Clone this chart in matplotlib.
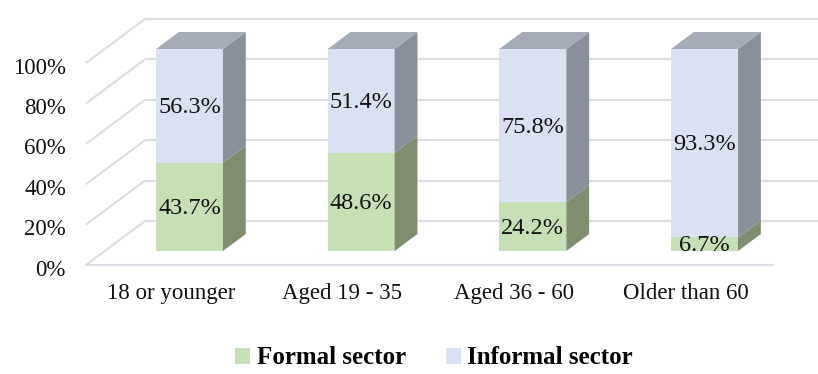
import matplotlib
matplotlib.use("Agg")
import matplotlib.pyplot as plt
from matplotlib.patches import Polygon, Patch

plt.rcParams['font.family'] = ['Liberation Serif', 'DejaVu Serif']

# ---- data -------------------------------------------------------------
categories = ["18 or younger", "Aged 19 - 35", "Aged 36 - 60", "Older than 60"]
formal = [43.7, 48.6, 24.2, 6.7]
informal = [56.3, 51.4, 75.8, 93.3]
series_names = ["Formal sector", "Informal sector"]
y_ticks = [0, 20, 40, 60, 80, 100]

# ---- 3-D look parameters (oblique projection) ---------------------------
DX = 0.3436        # horizontal shift for the full depth (category units)
DY = 21.78         # vertical shift for the full depth (percent units)
D_FRONT, D_BACK = 0.318, 0.705   # depth of bar front / back faces
BAR_W = 0.39
WALL_X = -0.4933   # left wall position at front
FLOOR_END = 3.508

front_cols = ["#C5E0B4", "#DAE1F2"]
side_cols = ["#7F8E6F", "#89909B"]
top_cols = ["#9FAE8E", "#A5ACB7"]
grid_col = "#DADDE3"

fig = plt.figure(figsize=(8.18, 3.74), dpi=100)
ax = fig.add_axes([0, 0, 1, 1])
ax.set_xlim(-0.9942, 3.770)
ax.set_ylim(-53.96, 131.19)
ax.axis("off")


def proj(x, v, d):
    return (x + d * DX, v + d * DY)


# gridlines: left wall diagonals and back wall horizontals
for t in y_ticks:
    x0, y0 = proj(WALL_X, t, 0)
    x1, y1 = proj(WALL_X, t, 1)
    ax.plot([x0, x1], [y0, y1], color=grid_col, lw=1.5, zorder=1,
            solid_capstyle="butt")
    ax.plot([x1, 4.5], [y1, y1], color=grid_col, lw=1.5, zorder=1,
            solid_capstyle="butt")
# floor front edge
ax.plot([WALL_X, FLOOR_END], [0, 0], color=grid_col, lw=1.5, zorder=1)

# y tick labels
for t in y_ticks:
    ax.text(-0.61, t - 2.5, f"{t}%", ha="right", va="center", fontsize=16.5,
            color="#111111")

# bars
for i, cat in enumerate(categories):
    xl, xr = i - BAR_W / 2, i + BAR_W / 2
    segs = [(0, formal[i]), (formal[i], formal[i] + informal[i])]
    for k, (v0, v1) in enumerate(segs):
        front = [proj(xl, v0, D_FRONT), proj(xr, v0, D_FRONT),
                 proj(xr, v1, D_FRONT), proj(xl, v1, D_FRONT)]
        side = [proj(xr, v0, D_FRONT), proj(xr, v0, D_BACK),
                proj(xr, v1, D_BACK), proj(xr, v1, D_FRONT)]
        ax.add_patch(Polygon(front, closed=True, fc=front_cols[k], ec="none", zorder=3))
        ax.add_patch(Polygon(side, closed=True, fc=side_cols[k], ec="none", zorder=3))
        if k == len(segs) - 1:
            top = [proj(xl, v1, D_FRONT), proj(xr, v1, D_FRONT),
                   proj(xr, v1, D_BACK), proj(xl, v1, D_BACK)]
            ax.add_patch(Polygon(top, closed=True, fc=top_cols[k], ec="none", zorder=3))
        cx, cy = proj(i, (v0 + v1) / 2, D_FRONT)
        val = formal[i] if k == 0 else informal[i]
        ax.text(cx, cy - 0.8, f"{val:.1f}%", ha="center", va="center",
                fontsize=17.5, color="#111111", zorder=5)
    # category label
    ax.text(i, -14.3, cat, ha="center", va="center", fontsize=16.5,
            color="#111111")

handles = [Patch(fc=front_cols[0], ec="none"), Patch(fc=front_cols[1], ec="none")]
leg = fig.legend(handles, series_names, loc="center",
                 bbox_to_anchor=(434 / 818, 1 - 358 / 374), ncol=2,
                 frameon=False, handlelength=0.6, handleheight=0.6,
                 handletextpad=0.25, columnspacing=1.6,
                 prop={"family": "Liberation Serif", "weight": "bold", "size": 18})

fig.savefig("out.png", dpi=100)
